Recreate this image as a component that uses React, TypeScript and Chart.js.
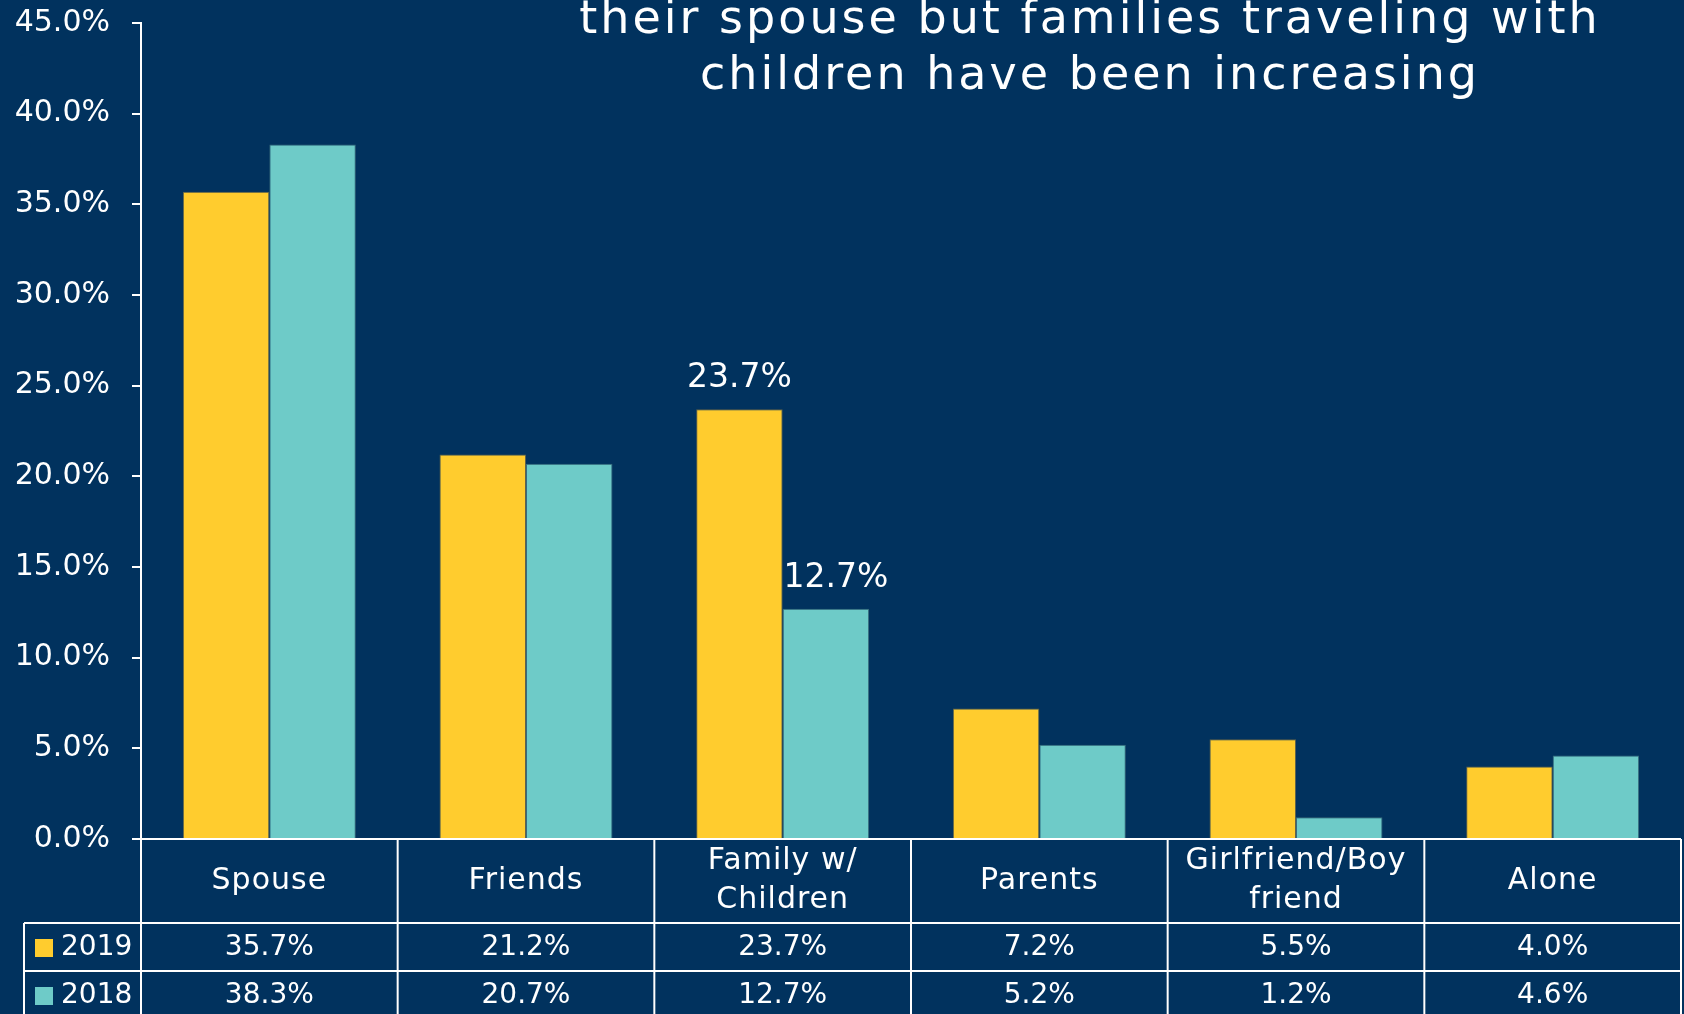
import React, { useEffect, useRef } from "react";
import { Chart, registerables } from "chart.js";

Chart.register(...registerables);

// ---- data ----
const categories: string[][] = [
  ["Spouse"],
  ["Friends"],
  ["Family w/", "Children"],
  ["Parents"],
  ["Girlfriend/Boy", "friend"],
  ["Alone"],
];
const seriesNames = ["2019", "2018"];
const values2019 = [35.7, 21.2, 23.7, 7.2, 5.5, 4.0];
const values2018 = [38.3, 20.7, 12.7, 5.2, 1.2, 4.6];
const labeledCategoryIndexes = [2];
const yMax = 45;
const yStep = 5;
const titleLines = [
  "their spouse but families traveling with",
  "children have been increasing",
];

// ---- style ----
const BG = "#01325E";
const YELLOW = "#FFCC2E";
const TEAL = "#6ECBC8";
const WHITE = "#FFFFFF";
const FONT = "'DejaVu Sans', sans-serif";

const fmt = (v: number) => v.toFixed(1) + "%";

const titlePlugin = {
  id: "titleOverlay",
  afterDraw(chart: any) {
    const { ctx } = chart;
    ctx.save();
    ctx.fillStyle = WHITE;
    ctx.font = `46px ${FONT}`;
    ctx.textAlign = "center";
    ctx.textBaseline = "alphabetic";
    (ctx as any).letterSpacing = "3px";
    const cx = 1090;
    titleLines.forEach((line, i) => {
      ctx.fillText(line, cx, 33 + i * 56);
    });
    ctx.restore();
  },
};

const barLabelPlugin = {
  id: "barLabels",
  afterDatasetsDraw(chart: any) {
    const { ctx } = chart;
    ctx.save();
    ctx.fillStyle = WHITE;
    ctx.font = `33px ${FONT}`;
    ctx.textAlign = "center";
    ctx.textBaseline = "alphabetic";
    chart.data.datasets.forEach((ds: any, d: number) => {
      const meta = chart.getDatasetMeta(d);
      labeledCategoryIndexes.forEach((i) => {
        const bar = meta.data[i];
        ctx.fillText(fmt(ds.data[i]), bar.x + d * 10, bar.y - 22);
      });
    });
    ctx.restore();
  },
};

const tablePlugin = {
  id: "dataTable",
  afterDraw(chart: any) {
    const { ctx, chartArea: ca, scales } = chart;
    const x = scales.x;
    const n = categories.length;
    const edges: number[] = [ca.left];
    for (let i = 1; i < n; i++) {
      edges.push((x.getPixelForValue(i - 1) + x.getPixelForValue(i)) / 2);
    }
    edges.push(ca.right);
    const headerBottom = ca.bottom + 84;
    const row1Bottom = headerBottom + 48;
    const row2Bottom = row1Bottom + 48;
    const legendLeft = 24;

    ctx.save();
    ctx.strokeStyle = WHITE;
    ctx.lineWidth = 2;
    const line = (x1: number, y1: number, x2: number, y2: number) => {
      ctx.beginPath();
      ctx.moveTo(x1, y1);
      ctx.lineTo(x2, y2);
      ctx.stroke();
    };
    line(ca.left, ca.bottom, ca.right, ca.bottom);
    line(legendLeft, headerBottom, ca.right, headerBottom);
    line(legendLeft, row1Bottom, ca.right, row1Bottom);
    line(legendLeft, row2Bottom, ca.right, row2Bottom);
    edges.forEach((e) => line(e, ca.bottom, e, row2Bottom));
    line(legendLeft, headerBottom, legendLeft, row2Bottom);

    ctx.fillStyle = WHITE;
    ctx.textAlign = "center";
    ctx.textBaseline = "middle";
    // header
    ctx.font = `30px ${FONT}`;
    (ctx as any).letterSpacing = "1px";
    const hc = (ca.bottom + headerBottom) / 2;
    categories.forEach((lines, i) => {
      const cx = (edges[i] + edges[i + 1]) / 2;
      const lh = 39;
      const start = hc - ((lines.length - 1) * lh) / 2;
      lines.forEach((t, j) => ctx.fillText(t, cx, start + j * lh));
    });
    // rows
    (ctx as any).letterSpacing = "0px";
    ctx.font = `28px ${FONT}`;
    const rows = [
      { name: seriesNames[0], vals: values2019, color: YELLOW, top: headerBottom, bottom: row1Bottom },
      { name: seriesNames[1], vals: values2018, color: TEAL, top: row1Bottom, bottom: row2Bottom },
    ];
    rows.forEach((r) => {
      const cy = (r.top + r.bottom) / 2 + 1;
      ctx.textAlign = "center";
      r.vals.forEach((v, i) => {
        const cx = (edges[i] + edges[i + 1]) / 2;
        ctx.fillText(fmt(v), cx, cy);
      });
      ctx.fillStyle = r.color;
      ctx.fillRect(35, cy - 9, 18, 18);
      ctx.fillStyle = WHITE;
      ctx.textAlign = "left";
      ctx.fillText(r.name, 61, cy);
    });
    ctx.restore();
  },
};

export default function App() {
  const canvasRef = useRef<HTMLCanvasElement | null>(null);

  useEffect(() => {
    document.body.style.margin = "0";
    document.body.style.background = BG;
    if (!canvasRef.current) return;
    const chart = new Chart(canvasRef.current, {
      type: "bar",
      data: {
        labels: categories,
        datasets: [
          {
            label: seriesNames[0],
            data: values2019,
            backgroundColor: YELLOW,
            borderColor: "rgba(120,110,70,0.8)",
            borderWidth: 1,
            barPercentage: 1,
            categoryPercentage: 0.674,
          },
          {
            label: seriesNames[1],
            data: values2018,
            backgroundColor: TEAL,
            borderColor: "rgba(70,120,130,0.8)",
            borderWidth: 1,
            barPercentage: 1,
            categoryPercentage: 0.674,
          },
        ],
      },
      options: {
        animation: false,
        responsive: true,
        maintainAspectRatio: false,
        layout: { padding: { top: 23, right: 3, bottom: 175, left: 0 } },
        plugins: {
          legend: { display: false },
          tooltip: { enabled: false },
          title: { display: false },
        },
        scales: {
          x: { display: false },
          y: {
            min: 0,
            max: yMax,
            ticks: {
              stepSize: yStep,
              color: WHITE,
              padding: 22,
              font: { family: FONT, size: 30 },
              callback: (v: any) => fmt(Number(v)),
            },
            grid: {
              display: true,
              drawOnChartArea: false,
              drawTicks: true,
              tickLength: 9,
              color: WHITE,
              lineWidth: 2,
            },
            border: { display: true, color: WHITE, width: 2 },
            afterFit: (scale: any) => {
              scale.width = 141;
              scale.paddingTop = 0;
              scale.paddingBottom = 0;
            },
          },
        },
      },
      plugins: [barLabelPlugin, tablePlugin, titlePlugin],
    });
    return () => chart.destroy();
  }, []);

  return (
    <div style={{ width: 1684, height: 1014, background: BG, position: "relative", overflow: "hidden" }}>
      <canvas ref={canvasRef} />
    </div>
  );
}
